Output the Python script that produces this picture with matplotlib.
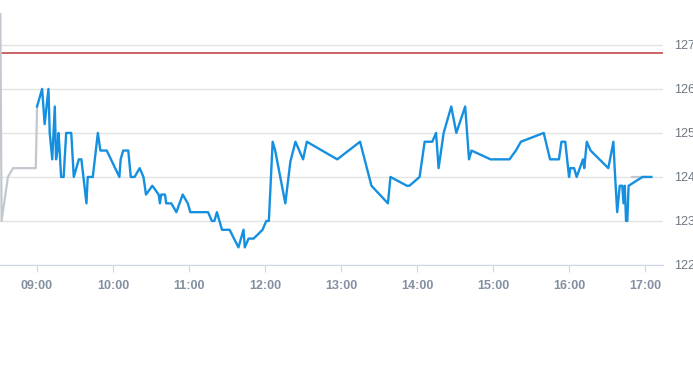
import matplotlib
matplotlib.use("Agg")
import matplotlib.pyplot as plt
import matplotlib.dates as mdates
from datetime import datetime

DAY = "2024-01-02 "

# pre-market (grey)
pre_times = ["08:31", "08:32", "08:37", "08:41", "08:59", "09:00"]
pre_prices = [127.7, 123.0, 124.0, 124.2, 124.2, 125.6]

# regular session (blue)
times = ["09:00", "09:04", "09:06", "09:09", "09:10", "09:12", "09:14", "09:15", "09:16",
         "09:17", "09:19", "09:21", "09:23", "09:27", "09:29", "09:33", "09:35", "09:39",
         "09:40", "09:44", "09:48", "09:50", "09:55", "10:05", "10:06", "10:08", "10:12",
         "10:14", "10:17", "10:21", "10:24", "10:26", "10:31", "10:36", "10:37", "10:38",
         "10:41", "10:42", "10:46", "10:50", "10:55", "10:59", "11:01", "11:15", "11:18",
         "11:20", "11:22", "11:26", "11:32", "11:39", "11:43", "11:44", "11:47", "11:51",
         "11:58", "12:01", "12:03", "12:06", "12:08", "12:16", "12:20", "12:24", "12:30",
         "12:33", "12:57", "13:15", "13:24", "13:37", "13:39", "13:52", "13:54", "14:02",
         "14:06", "14:12", "14:15", "14:17", "14:21", "14:27", "14:31", "14:38", "14:41",
         "14:43", "14:58", "15:13", "15:18", "15:22", "15:40", "15:45", "15:52", "15:54",
         "15:57", "16:00", "16:01", "16:04", "16:06", "16:11", "16:12", "16:14", "16:17",
         "16:31", "16:35", "16:36", "16:38", "16:40", "16:42", "16:43", "16:44", "16:45",
         "16:46", "16:47", "16:58", "17:05"]
prices = [125.6, 126.0, 125.2, 126.0, 125.0, 124.4, 125.6, 124.4, 124.6,
          125.0, 124.0, 124.0, 125.0, 125.0, 124.0, 124.4, 124.4, 123.4,
          124.0, 124.0, 125.0, 124.6, 124.6, 124.0, 124.4, 124.6, 124.6,
          124.0, 124.0, 124.2, 124.0, 123.6, 123.8, 123.6, 123.4, 123.6,
          123.6, 123.4, 123.4, 123.2, 123.6, 123.4, 123.2, 123.2, 123.0,
          123.0, 123.2, 122.8, 122.8, 122.4, 122.8, 122.4, 122.6, 122.6,
          122.8, 123.0, 123.0, 124.8, 124.6, 123.4, 124.35, 124.8, 124.4,
          124.8, 124.4, 124.8, 123.8, 123.4, 124.0, 123.8, 123.8, 124.0,
          124.8, 124.8, 125.0, 124.2, 125.0, 125.6, 125.0, 125.6, 124.4,
          124.6, 124.4, 124.4, 124.6, 124.8, 125.0, 124.4, 124.4, 124.8,
          124.8, 124.0, 124.2, 124.2, 124.0, 124.4, 124.2, 124.8, 124.6,
          124.2, 124.8, 124.2, 123.2, 123.8, 123.8, 123.4, 123.8, 123.0,
          123.0, 123.8, 124.0, 124.0]

# post-market (grey)
post_times = ["16:50", "17:00"]
post_prices = [124.0, 124.0]

prev_close = 126.82
y_ticks = [122, 123, 124, 125, 126, 127]


def to_dt(ts):
    return [datetime.strptime(DAY + t, "%Y-%m-%d %H:%M") for t in ts]


fig = plt.figure(figsize=(6.93, 3.65), dpi=100)
ax = fig.add_axes([0, 0.274, 663 / 693, 0.726])

ax.axhline(prev_close, color="#c0393b", lw=1.1, zorder=2)
ax.plot(to_dt(pre_times), pre_prices, color="#c2c8ce", lw=1.6, zorder=3)
ax.plot(to_dt(post_times), post_prices, color="#c2c8ce", lw=1.6, zorder=3)
ax.plot(to_dt(times), prices, color="#1590e0", lw=1.7, zorder=4)

ax.set_xlim(datetime.strptime(DAY + "08:30:45", "%Y-%m-%d %H:%M:%S"),
            datetime.strptime(DAY + "17:14:10", "%Y-%m-%d %H:%M:%S"))
ax.set_ylim(122, 128.02)

ax.xaxis.set_major_locator(mdates.HourLocator())
ax.xaxis.set_major_formatter(mdates.DateFormatter("%H:%M"))
ax.set_yticks(y_ticks)

ax.yaxis.tick_right()
ax.grid(axis="y", color="#e3e3e3", lw=1)
ax.set_axisbelow(True)
for s in ["left", "right", "top"]:
    ax.spines[s].set_visible(False)
ax.spines["bottom"].set_color("#ccd6eb")

fam = ["Liberation Sans", "DejaVu Sans"]
ax.tick_params(axis="y", length=0, pad=8, labelsize=9, labelcolor="#6e7780")
ax.tick_params(axis="x", length=5, color="#ccd6eb", pad=6, labelsize=9, labelcolor="#8390a0")
for lbl in ax.get_xticklabels():
    lbl.set_family(fam)
    lbl.set_fontweight("bold")
for lbl in ax.get_yticklabels():
    lbl.set_family(fam)

fig.savefig("out.png", dpi=100)
